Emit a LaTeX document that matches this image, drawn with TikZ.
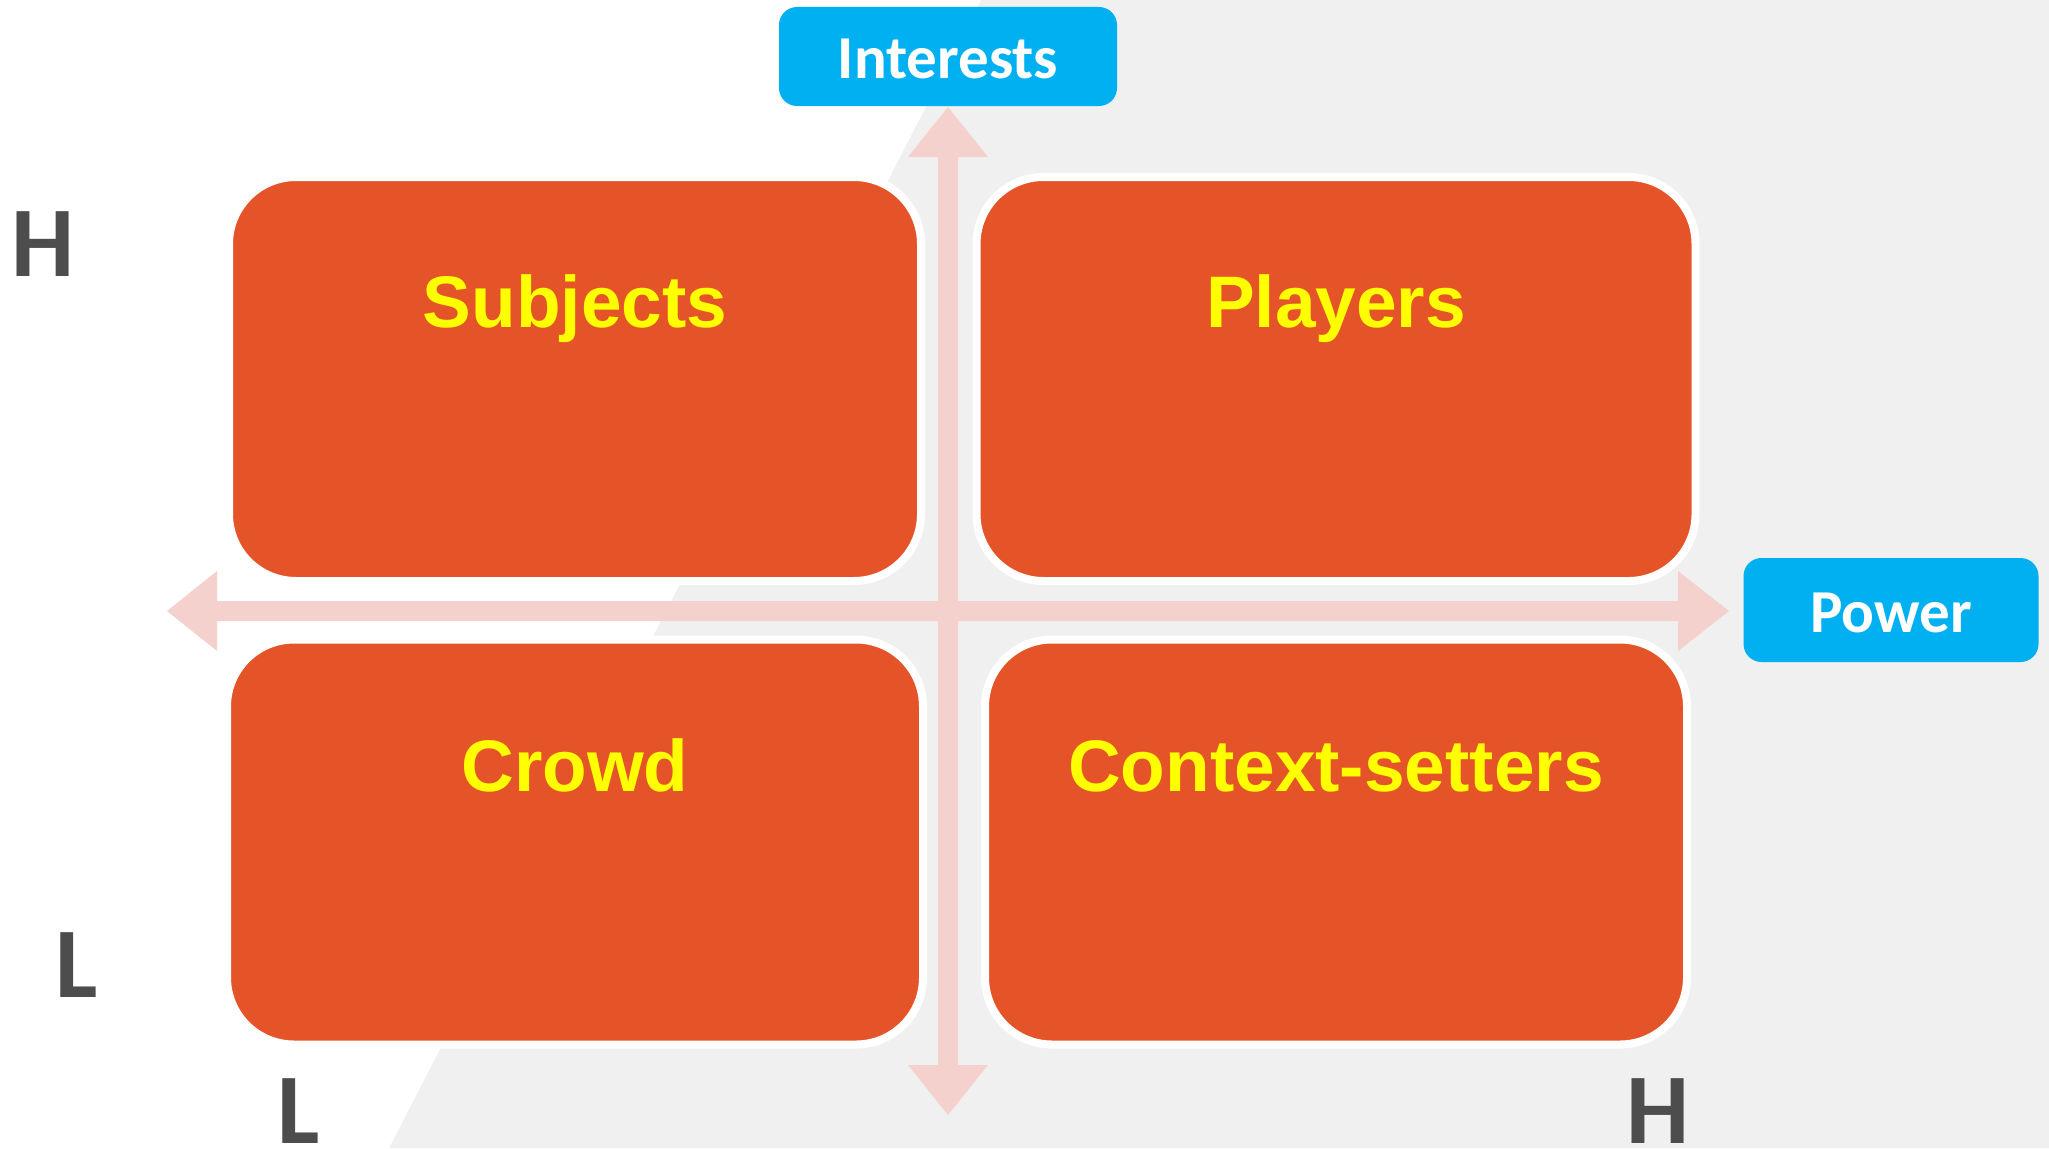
\documentclass[tikz,border=0pt]{standalone}
\usepackage{fontspec}
\setmainfont{Liberation Sans}
\newfontfamily\calibri{Carlito}
\definecolor{bggray}{HTML}{F0F0F0}
\definecolor{quadorange}{HTML}{E55428}
\definecolor{axispink}{HTML}{F4D1CD}
\definecolor{tagblue}{HTML}{00B0F0}
\definecolor{hlgray}{HTML}{4D4D4D}
\definecolor{quadyellow}{HTML}{FFFF00}
\tikzset{
  quad/.style={draw=white, line width=8pt, fill=quadorange, rounded corners=67pt, inner sep=0pt},
  quadlabel/.style={text=quadyellow, font=\fontsize{73}{80}\selectfont\bfseries, inner sep=0pt, anchor=base},
  tag/.style={fill=tagblue, rounded corners=18pt, inner sep=0pt, minimum height=99pt},
  taglabel/.style={text=white, font=\calibri\fontsize{61}{66}\selectfont\bfseries, inner sep=0pt, anchor=base},
  level/.style={text=hlgray, font=\calibri\fontsize{100}{106}\selectfont\bfseries, inner sep=0pt, anchor=base}
}
\begin{document}
\begin{tikzpicture}[x=1pt,y=-1pt]
        \useasboundingbox (0,0) rectangle (2049,1148);
        % background
        \fill[bggray] (0,0) rectangle (2049,1148);
        \fill[white] (0,0) -- (981,0) -- (389,1148) -- (0,1148) -- cycle;

        % axes
        \fill[axispink] (167,611) -- (217,571) -- (217,601) -- (1678,601) -- (1678,571) -- (1729,611)
            -- (1678,651) -- (1678,621) -- (217,621) -- (217,651) -- cycle;
        \fill[axispink] (948,107) -- (988,157) -- (958,157) -- (958,1065) -- (988,1065) -- (948,1115)
            -- (908,1065) -- (938,1065) -- (938,157) -- (908,157) -- cycle;

        % quadrants
        \node[quad, minimum width=692pt, minimum height=404pt] (subj) at (575,379) {};
        \node[quad, minimum width=719pt, minimum height=404pt] (play) at (1336,379) {};
        \node[quad, minimum width=696pt, minimum height=405pt] (crowd) at (575,842) {};
        \node[quad, minimum width=702pt, minimum height=405pt] (ctx) at (1336,842) {};

        \node[quadlabel] (subjtxt) at (575,327) {Subjects};
        \node[quadlabel] (playtxt) at (1336,327) {Players};
        \node[quadlabel] (crowdtxt) at (575,791) {Crowd};
        \node[quadlabel] (ctxtxt) at (1336,791) {Context-setters};

        % axis tags
        \node[tag, minimum width=338pt] (interests) at (948,56.5) {};
        \node[taglabel] (interesttxt) at (948,78) {Interests};
        \node[tag, minimum width=295pt, minimum height=104pt] (power) at (1891,610) {};
        \node[taglabel] (powertxt) at (1891,632) {Power};

        % levels
        \node[level] (ihigh) at (43,276) {H};
        \node[level] (ilow) at (77,997) {L};
        \node[level] (plow) at (299,1143) {L};
        \node[level] (phigh) at (1658,1143) {H};
\end{tikzpicture}
\end{document}
